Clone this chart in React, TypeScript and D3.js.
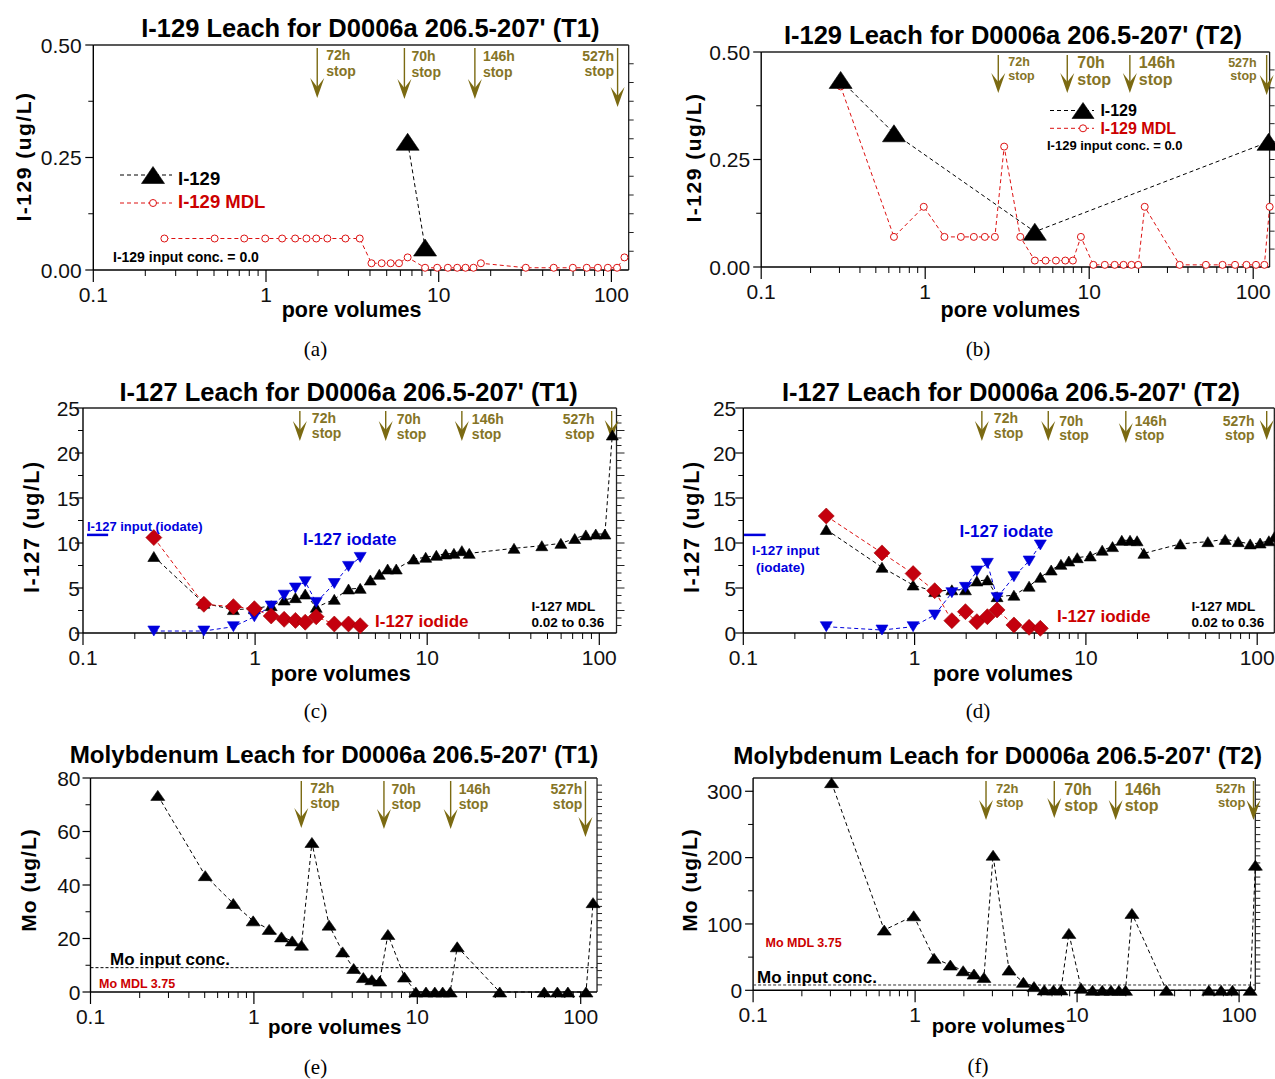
import React from 'react';
import * as d3 from 'd3';

// ---------- DATA ----------
const PV_T1 = [0.258, 0.504, 0.748, 0.99, 1.24, 1.475, 1.715, 1.955, 2.265, 2.885, 3.49, 4.08, 4.675, 5.27, 5.89, 6.61, 8.34, 9.8, 11.3, 12.8, 14.3, 15.9, 17.55, 31.95, 46.35, 59.8, 72, 83.5, 95.4, 107.8, 119];
const PV_T2 = [0.305, 0.645, 0.98, 1.31, 1.65, 1.98, 2.31, 2.66, 3.03, 3.8, 4.66, 5.42, 6.27, 7.15, 7.95, 8.9, 10.6, 12.45, 14.3, 16.2, 18.1, 19.9, 21.8, 35.6, 51.5, 65, 77.5, 91, 104, 117, 126];

const I129_T1_PV = [6.61, 8.34];
const I129_T1 = [0.285, 0.05];
const I129_MDL_T1 = [0.07, 0.07, 0.07, 0.07, 0.07, 0.07, 0.07, 0.07, 0.07, 0.07, 0.07, 0.015, 0.015, 0.015, 0.015, 0.028, 0.005, 0.005, 0.005, 0.005, 0.005, 0.005, 0.015, 0.005, 0.005, 0.005, 0.005, 0.005, 0.005, 0.005, 0.028];

const I129_T2_PV = [0.305, 0.645, 4.66, 124];
const I129_T2 = [0.435, 0.311, 0.082, 0.291];
const I129_MDL_T2 = [0.42, 0.07, 0.14, 0.07, 0.07, 0.07, 0.07, 0.07, 0.28, 0.07, 0.015, 0.015, 0.015, 0.015, 0.015, 0.07, 0.005, 0.005, 0.005, 0.005, 0.005, 0.005, 0.14, 0.005, 0.005, 0.005, 0.005, 0.005, 0.005, 0.005, 0.14];

const I127_T1 = [8.5, 3.3, 2.6, 2.7, 3.04, 3.67, 3.93, 4.33, 2.85, 3.74, 4.89, 4.96, 5.89, 6.52, 7.11, 7.11, 8.22, 8.41, 8.63, 8.78, 8.85, 9.15, 8.85, 9.41, 9.7, 9.96, 10.5, 10.9, 11.0, 11.0, 22.0];
const IODIDE_T1 = [10.6, 3.19, 2.93, 2.7, 1.89, 1.52, 1.4, 1.2, 1.8, 1.0, 1.0, 0.81];
const IODATE_T1 = [0.22, 0.22, 0.7, 1.8, 3.0, 4.2, 5.0, 5.7, 3.4, 5.5, 7.4, 8.4];

const I127_T2 = [11.5, 7.3, 5.33, 4.6, 4.8, 4.8, 5.78, 5.9, 4.04, 4.2, 5.2, 6.19, 7.0, 7.63, 8.0, 8.37, 8.56, 9.2, 9.6, 10.3, 10.3, 10.25, 8.85, 9.9, 10.15, 10.4, 10.15, 9.9, 10.0, 10.25, 10.7];
const IODIDE_T2 = [13.0, 8.9, 6.6, 4.7, 1.37, 2.37, 1.26, 1.81, 2.56, 0.89, 0.63, 0.52];
const IODATE_T2 = [0.7, 0.33, 0.7, 2.0, 4.48, 5.07, 6.89, 7.74, 3.93, 6.26, 8.0, 9.78];

const I127_INPUT = 10.9;
const I127_INPUT_PV_T1 = [0.1055, 0.14];
const I127_INPUT_PV_T2 = [0.101, 0.135];

const MO_T1 = [73.5, 43.5, 33.1, 26.6, 23.4, 20.6, 19.1, 17.5, 55.9, 25.0, 15.0, 8.8, 5.4, 4.6, 4.1, 21.5, 5.6, 0, 0, 0, 0, 0, 16.9, 0, null, 0, 0, 0, null, 0, 33.4];
const MO_T2 = [313, 90.8, 112.3, 48.2, 38.1, 29.5, 24.5, 19.4, 203.6, 30.5, 12, 5.6, 0.5, 0.5, 0.5, 85.8, 3, 0, 0, 0, 0, 0, 115.9, 0, null, 0, 0, 0, null, 0, 188.6];
const MO_INPUT_T1 = 9.1;
const MO_INPUT_T2 = 8;

const STOP_LABELS = ['72h', '70h', '146h', '527h'];
const STOPS_A = [1.98, 6.33, 16.2, 108.6];
const STOPS_B = [2.79, 7.35, 17.7, 120.8];
const STOPS_C = [1.82, 5.74, 15.9, 118];
const STOPS_D = [2.47, 6.03, 17.1, 113.6];
const STOPS_E = [1.95, 6.25, 16.0, 106.9];
const STOPS_F = [2.74, 7.23, 17.3, 122.7];

const X_TICKS = [0.1, 1, 10, 100];
const X_TICK_LABELS = ['0.1', '1', '10', '100'];

// ---------- STYLE ----------
const FONT = "'Liberation Sans', Arial, Helvetica, sans-serif";
const SERIF = "'Liberation Serif', 'Times New Roman', serif";
const OLIVE = '#7b6a12';
const OLIVE_TXT = '#857426';
const RED = '#cc0000';
const DRED = '#c4000e';
const BLUE = '#0000dd';

type Series = {
  xs: number[];
  ys: (number | null)[];
  marker: 'triUp' | 'triDown' | 'diamond' | 'circle';
  mw: number;
  mh: number;
  fill: string;
  stroke: string;
  line: string;
};

type Txt = { x: number; y: number; s: string; fs: number; fill: string; anchor?: string; weight?: string };

type StopCfg = { tips: number[]; dx: number[]; fs: number[]; b1: number[]; b2: number[] };

type Panel = {
  x0: number; dec: number; top: number; bottom: number; yMax: number;
  yTicks: number[]; yMinor: number[]; yFmt: (v: number) => string; yGap: number;
  rightN: number; rightLongEvery: number;
  title: string; titleX: number; titleY: number; titleFs: number;
  yLabel: string; yLabelX: number; yLabelY: number; yLabelFs: number; yLabelLs: number;
  xLabelX: number; xLabelY: number; xLabelFs: number;
  sub: string; subX: number; subY: number;
  stops: number[]; stopCfg: StopCfg;
  series: Series[];
  hlines?: { xs?: number[]; v: number; color: string; dash: string; width: number }[];
  texts: Txt[];
  legend?: { x1: number; x2: number; mx: number; rows: { y: number; s: Series; tx: number; ty: number; label: string; fs: number; color: string }[] };
};

function markerPath(type: string, w: number, h: number) {
  if (type === 'triUp') return `M0,${-h / 2}L${w / 2},${h / 2}L${-w / 2},${h / 2}Z`;
  if (type === 'triDown') return `M0,${h / 2}L${w / 2},${-h / 2}L${-w / 2},${-h / 2}Z`;
  return `M0,${-h / 2}L${w / 2},0L0,${h / 2}L${-w / 2},0Z`;
}

function Marker({ s, cx, cy }: { s: Series; cx: number; cy: number }) {
  if (s.marker === 'circle') {
    return <circle cx={cx} cy={cy} r={s.mw / 2} fill="#fff" stroke={s.stroke} strokeWidth={1} />;
  }
  return <path d={markerPath(s.marker, s.mw, s.mh)} transform={`translate(${cx},${cy})`} fill={s.fill} stroke={s.stroke} strokeWidth={0.6} />;
}

const BIG_TRI = (xs: number[], ys: (number | null)[]): Series => ({ xs, ys, marker: 'triUp', mw: 23, mh: 17, fill: '#000', stroke: '#000', line: '#000' });
const MDL_CIRC = (xs: number[], ys: (number | null)[]): Series => ({ xs, ys, marker: 'circle', mw: 7, mh: 7, fill: '#fff', stroke: '#dd1111', line: '#dd1111' });
const SM_TRI = (xs: number[], ys: (number | null)[], w = 12, h = 10): Series => ({ xs, ys, marker: 'triUp', mw: w, mh: h, fill: '#000', stroke: '#000', line: '#000' });
const BLUE_TRI = (xs: number[], ys: (number | null)[]): Series => ({ xs, ys, marker: 'triDown', mw: 12, mh: 10, fill: BLUE, stroke: BLUE, line: BLUE });
const RED_DIA = (xs: number[], ys: (number | null)[]): Series => ({ xs, ys, marker: 'diamond', mw: 16, mh: 16, fill: DRED, stroke: '#a00000', line: '#dd1111' });

const fmt2 = d3.format('.2f');
const fmt0 = (v: number) => String(v);

const PANELS: Panel[] = [
  {
    x0: 93.3, dec: 172.7, top: 45, bottom: 270, yMax: 0.5,
    yTicks: [0, 0.25, 0.5], yMinor: [0.125, 0.375], yFmt: fmt2, yGap: 11.7,
    rightN: 12, rightLongEvery: 0,
    title: "I-129 Leach for D0006a 206.5-207' (T1)", titleX: 370.4, titleY: 37, titleFs: 25.5,
    yLabel: 'I-129 (ug/L)', yLabelX: 31, yLabelY: 156.5, yLabelFs: 21, yLabelLs: 1.5,
    xLabelX: 351.6, xLabelY: 317, xLabelFs: 21.5,
    sub: '(a)', subX: 315.5, subY: 356,
    stops: STOPS_A,
    stopCfg: { tips: [98, 99, 99, 107], dx: [9, 7, 8, -3.5], fs: [14, 14, 14, 14], b1: [15, 16, 16, 16], b2: [31, 32, 32, 31] },
    series: [MDL_CIRC(PV_T1, I129_MDL_T1), BIG_TRI(I129_T1_PV, I129_T1)],
    texts: [{ x: 113, y: 261.5, s: 'I-129 input conc. = 0.0', fs: 14, fill: '#000' }],
    legend: {
      x1: 120, x2: 172, mx: 153,
      rows: [
        { y: 175, s: BIG_TRI([], []), tx: 178, ty: 185, label: 'I-129', fs: 18.5, color: '#000' },
        { y: 203, s: MDL_CIRC([], []), tx: 178, ty: 207.5, label: 'I-129 MDL', fs: 18.5, color: RED },
      ],
    },
  },
  {
    x0: 761.2, dec: 164, top: 52, bottom: 267, yMax: 0.5,
    yTicks: [0, 0.25, 0.5], yMinor: [0.125, 0.375], yFmt: fmt2, yGap: 11,
    rightN: 12, rightLongEvery: 0,
    title: "I-129 Leach for D0006a 206.5-207' (T2)", titleX: 1013, titleY: 44, titleFs: 25.5,
    yLabel: 'I-129 (ug/L)', yLabelX: 701, yLabelY: 157.5, yLabelFs: 21, yLabelLs: 1.5,
    xLabelX: 1010.4, xLabelY: 317, xLabelFs: 21.5,
    sub: '(b)', subX: 978, subY: 356,
    stops: STOPS_B,
    stopCfg: { tips: [93, 93, 93, 95], dx: [10, 10, 9, -10], fs: [12.5, 16, 16, 12.5], b1: [14, 16, 16, 15], b2: [28, 33, 33, 28] },
    series: [MDL_CIRC(PV_T2, I129_MDL_T2), BIG_TRI(I129_T2_PV, I129_T2)],
    texts: [{ x: 1047, y: 150, s: 'I-129 input conc. = 0.0', fs: 13, fill: '#000' }],
    legend: {
      x1: 1050, x2: 1094, mx: 1083,
      rows: [
        { y: 110.5, s: { ...BIG_TRI([], []), mw: 22, mh: 16 }, tx: 1100.4, ty: 115.5, label: 'I-129', fs: 16, color: '#000' },
        { y: 128.3, s: MDL_CIRC([], []), tx: 1100.4, ty: 133.5, label: 'I-129 MDL', fs: 16, color: RED },
      ],
    },
  },
  {
    x0: 83, dec: 172.1, top: 408, bottom: 633, yMax: 25,
    yTicks: [0, 5, 10, 15, 20, 25], yMinor: [2.5, 7.5, 12.5, 17.5, 22.5], yFmt: fmt0, yGap: 3,
    rightN: 30, rightLongEvery: 3,
    title: "I-127 Leach for D0006a 206.5-207' (T1)", titleX: 348.6, titleY: 401, titleFs: 25.5,
    yLabel: 'I-127 (ug/L)', yLabelX: 38.5, yLabelY: 526.7, yLabelFs: 21.5, yLabelLs: 1.5,
    xLabelX: 340.7, xLabelY: 681, xLabelFs: 21.5,
    sub: '(c)', subX: 315.5, subY: 718,
    stops: STOPS_C,
    stopCfg: { tips: [441, 441, 441, 440], dx: [12, 11, 10, -17], fs: [14, 14, 14, 14], b1: [15, 16, 16, 16], b2: [30, 31, 31, 31] },
    series: [SM_TRI(PV_T1, I127_T1), BLUE_TRI(PV_T1.slice(0, 12), IODATE_T1), RED_DIA(PV_T1.slice(0, 12), IODIDE_T1)],
    hlines: [{ xs: I127_INPUT_PV_T1, v: I127_INPUT, color: BLUE, dash: '', width: 2.5 }],
    texts: [
      { x: 87, y: 531, s: 'I-127 input (iodate)', fs: 13, fill: BLUE },
      { x: 303, y: 545, s: 'I-127 iodate', fs: 17, fill: BLUE },
      { x: 375, y: 626.5, s: 'I-127 iodide', fs: 17, fill: RED },
      { x: 531.5, y: 611, s: 'I-127 MDL', fs: 13.5, fill: '#000' },
      { x: 531.5, y: 627, s: '0.02 to 0.36', fs: 13.5, fill: '#000' },
    ],
  },
  {
    x0: 743.3, dec: 171.3, top: 408, bottom: 633, yMax: 25,
    yTicks: [0, 5, 10, 15, 20, 25], yMinor: [2.5, 7.5, 12.5, 17.5, 22.5], yFmt: fmt0, yGap: 7,
    rightN: 30, rightLongEvery: 3,
    title: "I-127 Leach for D0006a 206.5-207' (T2)", titleX: 1011, titleY: 401, titleFs: 25.5,
    yLabel: 'I-127 (ug/L)', yLabelX: 698.5, yLabelY: 526.7, yLabelFs: 21.5, yLabelLs: 1.5,
    xLabelX: 1003, xLabelY: 681, xLabelFs: 21.5,
    sub: '(d)', subX: 978, subY: 718,
    stops: STOPS_D,
    stopCfg: { tips: [441, 441, 443, 440], dx: [12, 11, 9, -12], fs: [14, 14, 14, 14], b1: [15, 18, 18, 18], b2: [30, 32, 32, 32] },
    series: [SM_TRI(PV_T2, I127_T2), BLUE_TRI(PV_T2.slice(0, 12), IODATE_T2), RED_DIA(PV_T2.slice(0, 12), IODIDE_T2)],
    hlines: [{ xs: I127_INPUT_PV_T2, v: I127_INPUT, color: BLUE, dash: '', width: 2.5 }],
    texts: [
      { x: 752, y: 555, s: 'I-127 input', fs: 13.5, fill: BLUE },
      { x: 756, y: 571.5, s: '(iodate)', fs: 13.5, fill: BLUE },
      { x: 959.6, y: 537, s: 'I-127 iodate', fs: 17, fill: BLUE },
      { x: 1057, y: 622, s: 'I-127 iodide', fs: 17, fill: RED },
      { x: 1191.5, y: 610.5, s: 'I-127 MDL', fs: 13.5, fill: '#000' },
      { x: 1191.5, y: 626.5, s: '0.02 to 0.36', fs: 13.5, fill: '#000' },
    ],
  },
  {
    x0: 90.5, dec: 163.4, top: 778, bottom: 992, yMax: 80,
    yTicks: [0, 20, 40, 60, 80], yMinor: [10, 30, 50, 70], yFmt: fmt0, yGap: 10,
    rightN: 30, rightLongEvery: 0,
    title: "Molybdenum Leach for D0006a 206.5-207' (T1)", titleX: 334, titleY: 763, titleFs: 24.2,
    yLabel: 'Mo (ug/L)', yLabelX: 36, yLabelY: 880, yLabelFs: 21, yLabelLs: 1,
    xLabelX: 334.7, xLabelY: 1034, xLabelFs: 20.5,
    sub: '(e)', subX: 315.5, subY: 1074,
    stops: STOPS_E,
    stopCfg: { tips: [828, 829, 829, 837], dx: [9, 7.5, 8, -3], fs: [14, 14, 14, 14], b1: [15, 16, 16, 16], b2: [30, 31, 31, 31] },
    series: [SM_TRI(PV_T1, MO_T1, 14, 10)],
    hlines: [{ v: MO_INPUT_T1, color: '#000', dash: '3,2', width: 1 }],
    texts: [
      { x: 110, y: 965, s: 'Mo input conc.', fs: 17, fill: '#000' },
      { x: 99, y: 988, s: 'Mo MDL 3.75', fs: 12.5, fill: RED },
    ],
  },
  {
    x0: 753.1, dec: 162, top: 778, bottom: 990.3, yMax: 320,
    yTicks: [0, 100, 200, 300], yMinor: [50, 150, 250], yFmt: fmt0, yGap: 11,
    rightN: 30, rightLongEvery: 0,
    title: "Molybdenum Leach for D0006a 206.5-207' (T2)", titleX: 997.7, titleY: 764, titleFs: 24.2,
    yLabel: 'Mo (ug/L)', yLabelX: 696.5, yLabelY: 880, yLabelFs: 21, yLabelLs: 1,
    xLabelX: 998.4, xLabelY: 1033, xLabelFs: 20.5,
    sub: '(f)', subX: 978, subY: 1073,
    stops: STOPS_F,
    stopCfg: { tips: [820, 818, 820, 820], dx: [10, 10, 9, -8], fs: [13, 16, 16, 13], b1: [15, 17, 17, 15], b2: [29, 33, 33, 29] },
    series: [SM_TRI(PV_T2, MO_T2, 14, 10)],
    hlines: [{ v: MO_INPUT_T2, color: '#333', dash: '3,2', width: 1 }],
    texts: [
      { x: 757, y: 983, s: 'Mo input conc.', fs: 17, fill: '#000' },
      { x: 765.5, y: 947, s: 'Mo MDL 3.75', fs: 12.5, fill: RED },
    ],
  },
];

function PanelView({ p }: { p: Panel }) {
  const right = p.x0 + 3.1 * p.dec;
  const x = d3.scaleLog().domain([0.1, Math.pow(10, 2.1)]).range([p.x0, right]);
  const y = d3.scaleLinear().domain([0, p.yMax]).range([p.bottom, p.top]);
  const line = d3.line<[number, number]>().x((d) => x(d[0])).y((d) => y(d[1]));

  const minorX: number[] = [];
  [0.1, 1, 10].forEach((d) => {
    for (let k = 2; k <= 9; k++) minorX.push(k * d);
  });

  const rightTicks: { y: number; long: boolean }[] = [];
  for (let i = 1; i < p.rightN; i++) {
    rightTicks.push({ y: p.top + (i * (p.bottom - p.top)) / p.rightN, long: p.rightLongEvery > 0 && i % p.rightLongEvery === 0 });
  }

  return (
    <g fontFamily={FONT}>
      <text x={p.titleX} y={p.titleY} textAnchor="middle" fontSize={p.titleFs} fontWeight="bold" fill="#000">{p.title}</text>

      <line x1={p.x0} x2={right} y1={p.top} y2={p.top} stroke="#222" strokeWidth={1.3} />
      <line x1={right} x2={right} y1={p.top} y2={p.bottom} stroke="#222" strokeWidth={1.3} />
      <line x1={p.x0} x2={p.x0} y1={p.top} y2={p.bottom} stroke="#000" strokeWidth={1.4} />
      <line x1={p.x0} x2={right} y1={p.bottom} y2={p.bottom} stroke="#000" strokeWidth={1.4} />
      {rightTicks.map((t, i) => (
        <line key={'rt' + i} x1={right} x2={right + (t.long ? 8 : 5)} y1={t.y} y2={t.y} stroke="#222" strokeWidth={1} />
      ))}

      {p.yTicks.map((v) => (
        <g key={'yt' + v}>
          <line x1={p.x0 - 8} x2={p.x0} y1={y(v)} y2={y(v)} stroke="#000" strokeWidth={1.2} />
          <text x={p.x0 - p.yGap} y={y(v)} dy="0.36em" textAnchor="end" fontSize={21} fill="#111">{p.yFmt(v)}</text>
        </g>
      ))}
      {p.yMinor.map((v) => (
        <line key={'ym' + v} x1={p.x0 - 5} x2={p.x0} y1={y(v)} y2={y(v)} stroke="#000" strokeWidth={1} />
      ))}

      {X_TICKS.map((v, i) => (
        <g key={'xt' + v}>
          <line x1={x(v)} x2={x(v)} y1={p.bottom} y2={p.bottom + 12} stroke="#000" strokeWidth={1.2} />
          <text x={x(v)} y={p.bottom + 32} textAnchor="middle" fontSize={21} fill="#111">{X_TICK_LABELS[i]}</text>
        </g>
      ))}
      {minorX.map((v) => (
        <line key={'xm' + v} x1={x(v)} x2={x(v)} y1={p.bottom} y2={p.bottom + 6} stroke="#000" strokeWidth={1} />
      ))}

      <text x={p.xLabelX} y={p.xLabelY} textAnchor="middle" fontSize={p.xLabelFs} fontWeight="bold" fill="#000">pore volumes</text>
      <text transform={`translate(${p.yLabelX},${p.yLabelY}) rotate(-90)`} textAnchor="middle" fontSize={p.yLabelFs} fontWeight="bold" letterSpacing={p.yLabelLs} fill="#000">{p.yLabel}</text>
      <text x={p.subX} y={p.subY} textAnchor="middle" fontSize={21} fontFamily={SERIF} fill="#000">{p.sub}</text>

      {(p.hlines || []).map((h, i) => {
        const xa = h.xs ? x(h.xs[0]) : p.x0;
        const xb = h.xs ? x(h.xs[1]) : right;
        return <line key={'hl' + i} x1={xa} x2={xb} y1={y(h.v)} y2={y(h.v)} stroke={h.color} strokeWidth={h.width} strokeDasharray={h.dash || undefined} />;
      })}

      {p.stops.map((v, i) => {
        const sx = x(v);
        const tip = p.stopCfg.tips[i];
        const dx = p.stopCfg.dx[i];
        const tx = sx + dx;
        const anchor = dx < 0 ? 'end' : 'start';
        const fs = p.stopCfg.fs[i];
        return (
          <g key={'st' + i}>
            <line x1={sx} x2={sx} y1={p.top + 3} y2={tip - 10} stroke={OLIVE} strokeWidth={1.4} />
            <path d={`M${sx},${tip}L${sx - 7},${tip - 20}L${sx},${tip - 11}L${sx + 7},${tip - 20}Z`} fill={OLIVE} />
            <text x={tx} y={p.top + p.stopCfg.b1[i]} textAnchor={anchor} fontSize={fs} fontWeight="bold" fill={OLIVE_TXT}>{STOP_LABELS[i]}</text>
            <text x={tx} y={p.top + p.stopCfg.b2[i]} textAnchor={anchor} fontSize={fs} fontWeight="bold" fill={OLIVE_TXT}>stop</text>
          </g>
        );
      })}

      {p.series.map((s, si) => {
        const pts: [number, number][] = [];
        s.xs.forEach((xv, i) => {
          const yv = s.ys[i];
          if (yv !== null && yv !== undefined) pts.push([xv, yv]);
        });
        return <path key={'ln' + si} d={line(pts) || ''} fill="none" stroke={s.line} strokeWidth={1} strokeDasharray="4,3" />;
      })}
      {p.series.map((s, si) => (
        <g key={'mk' + si}>
          {s.xs.map((xv, i) => {
            const yv = s.ys[i];
            if (yv === null || yv === undefined) return null;
            return <Marker key={i} s={s} cx={x(xv)} cy={y(yv)} />;
          })}
        </g>
      ))}

      {p.legend &&
        p.legend.rows.map((r, i) => (
          <g key={'lg' + i}>
            <line x1={p.legend!.x1} x2={p.legend!.x2} y1={r.y} y2={r.y} stroke={r.s.line} strokeWidth={1} strokeDasharray="4,3" />
            <Marker s={r.s} cx={p.legend!.mx} cy={r.y} />
            <text x={r.tx} y={r.ty} fontSize={r.fs} fontWeight="bold" fill={r.color}>{r.label}</text>
          </g>
        ))}

      {p.texts.map((t, i) => (
        <text key={'tx' + i} x={t.x} y={t.y} fontSize={t.fs} fontWeight={t.weight || 'bold'} fill={t.fill} textAnchor={t.anchor || 'start'}>{t.s}</text>
      ))}
    </g>
  );
}

export default function App() {
  return (
    <svg width={1275} height={1079} viewBox="0 0 1275 1079" style={{ position: 'absolute', left: 0, top: 0, background: '#fff' }}>
      <rect x={0} y={0} width={1275} height={1079} fill="#fff" />
      {PANELS.map((p, i) => (
        <PanelView key={i} p={p} />
      ))}
    </svg>
  );
}
